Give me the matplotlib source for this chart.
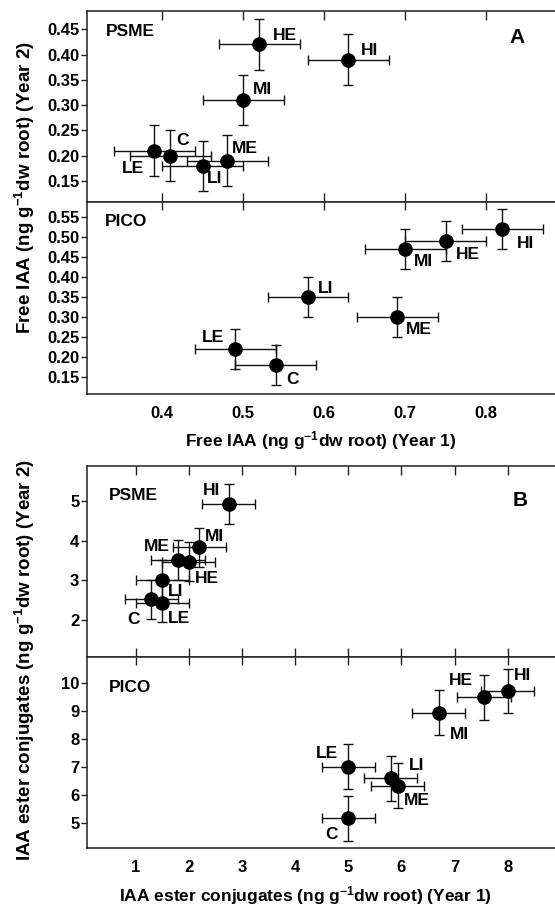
import matplotlib
matplotlib.use("Agg")
import matplotlib.pyplot as plt
import numpy as np

plt.rcParams['font.family'] = ['Liberation Sans', 'DejaVu Sans']
plt.rcParams['font.weight'] = 'bold'
plt.rcParams['mathtext.fontset'] = 'custom'
plt.rcParams['mathtext.rm'] = 'Liberation Sans:bold'
plt.rcParams['mathtext.it'] = 'Liberation Sans:bold'
plt.rcParams['mathtext.bf'] = 'Liberation Sans:bold'
plt.rcParams['mathtext.default'] = 'rm'

# ---------------- data ----------------
treatments = ['C', 'LE', 'LI', 'ME', 'MI', 'HE', 'HI']

# Panel A: Free IAA
a_psme_x = [0.41, 0.39, 0.45, 0.48, 0.50, 0.52, 0.63]
a_psme_y = [0.20, 0.21, 0.18, 0.19, 0.31, 0.42, 0.39]
a_psme_xerr = [0.05, 0.05, 0.05, 0.05, 0.05, 0.05, 0.05]
a_psme_yerr = [0.05, 0.05, 0.05, 0.05, 0.05, 0.05, 0.05]

a_pico_x = [0.54, 0.49, 0.58, 0.69, 0.70, 0.75, 0.82]
a_pico_y = [0.18, 0.22, 0.35, 0.30, 0.47, 0.49, 0.52]
a_pico_xerr = [0.05, 0.05, 0.05, 0.05, 0.05, 0.05, 0.05]
a_pico_yerr = [0.05, 0.05, 0.05, 0.05, 0.05, 0.05, 0.05]

# Panel B: IAA ester conjugates
b_psme_x = [1.3, 1.5, 1.5, 1.8, 2.2, 2.0, 2.75]
b_psme_y = [2.52, 2.44, 3.01, 3.51, 3.83, 3.47, 4.92]
b_psme_xerr = [0.5, 0.5, 0.5, 0.5, 0.5, 0.5, 0.5]
b_psme_yerr = [0.5, 0.5, 0.5, 0.5, 0.5, 0.5, 0.5]

b_pico_x = [5.0, 5.0, 5.8, 5.93, 6.7, 7.55, 8.0]
b_pico_y = [5.18, 7.02, 6.61, 6.34, 8.95, 9.5, 9.73]
b_pico_xerr = [0.5, 0.5, 0.5, 0.5, 0.5, 0.5, 0.5]
b_pico_yerr = [0.8, 0.8, 0.8, 0.8, 0.8, 0.8, 0.8]

a_xticks = [0.4, 0.5, 0.6, 0.7, 0.8]
a_psme_yticks = [0.15, 0.20, 0.25, 0.30, 0.35, 0.40, 0.45]
a_pico_yticks = [0.15, 0.20, 0.25, 0.30, 0.35, 0.40, 0.45, 0.50, 0.55]
b_xticks = [1, 2, 3, 4, 5, 6, 7, 8]
b_psme_yticks = [2, 3, 4, 5]
b_pico_yticks = [5, 6, 7, 8, 9, 10]

# label offsets (pixels): (dx, dy, ha)
a_psme_off = {'C': (6, 15, 'left'), 'LE': (-10, -18, 'right'), 'LI': (4, -13, 'left'),
              'ME': (5, 12, 'left'), 'MI': (10, 11, 'left'), 'HE': (13, 9, 'left'),
              'HI': (12, 9, 'left')}
a_pico_off = {'C': (11, -14, 'left'), 'LE': (-11, 12, 'right'), 'LI': (10, 9, 'left'),
              'ME': (9, -12, 'left'), 'MI': (9, -12, 'left'), 'HE': (10, -13, 'left'),
              'HI': (15, -14, 'left')}
b_psme_off = {'C': (-12, -20, 'right'), 'LE': (6, -16, 'left'), 'LI': (6, -12, 'left'),
              'ME': (-8, 14, 'right'), 'MI': (6, 11, 'left'), 'HE': (6, -17, 'left'),
              'HI': (-8, 14, 'right')}
b_pico_off = {'C': (-11, -16, 'right'), 'LE': (-10, 13, 'right'), 'LI': (18, 13, 'left'),
              'ME': (6, -15, 'left'), 'MI': (11, -22, 'left'), 'HE': (-11, 17, 'right'),
              'HI': (6, 15, 'left')}

W, H = 555, 907
fig = plt.figure(figsize=(W / 100, H / 100), dpi=100)

def pax(top, bottom):
    left = 87 / W
    return fig.add_axes([left, 1 - bottom / H, 1 - left + 0.01, (bottom - top) / H])

PX = 72 / 100.0  # pixels -> points

def draw(ax, xs, ys, xe, ye, offs, xlim, ylim, yticks, xticks, yfmt, upper):
    ax.errorbar(xs, ys, xerr=xe, yerr=ye, fmt='o', color='black', ms=9.5,
                ecolor='#111111', elinewidth=1.0, capsize=3.3, capthick=1.0, zorder=3)
    for t, x, y in zip(treatments, xs, ys):
        dx, dy, ha = offs[t]
        ax.annotate(t, (x, y), xytext=(dx * PX, dy * PX), textcoords='offset points',
                    ha=ha, va='center', fontsize=12.5, fontweight='bold')
    ax.set_xlim(*xlim)
    ax.set_ylim(*ylim)
    ax.set_yticks(yticks)
    ax.set_yticklabels([yfmt % v for v in yticks])
    ax.set_xticks(xticks)
    ax.spines['right'].set_visible(False)
    for s in ['left', 'top', 'bottom']:
        ax.spines[s].set_linewidth(1.1)
        ax.spines[s].set_color('#222222')
    ax.tick_params(axis='y', direction='out', length=4.5, width=1.0, pad=1,
                   labelsize=12, colors='#222222', labelcolor='black')
    if upper:
        ax.tick_params(axis='x', top=True, bottom=True, direction='in', length=6.5,
                       width=1.0, labelbottom=False, colors='#222222')
    else:
        ax.tick_params(axis='x', top=True, bottom=False, direction='in', length=5.5,
                       width=1.0, labelbottom=True, pad=9, labelsize=12,
                       colors='#222222', labelcolor='black')
    for lab in ax.get_xticklabels() + ax.get_yticklabels():
        lab.set_fontweight('bold')

# Panel A
ax1 = pax(10.5, 201.5)
draw(ax1, a_psme_x, a_psme_y, a_psme_xerr, a_psme_yerr, a_psme_off,
     (0.307, 0.892), (0.1095, 0.487), a_psme_yticks, a_xticks, '%.2f', True)
ax2 = pax(201.5, 393.5)
draw(ax2, a_pico_x, a_pico_y, a_pico_xerr, a_pico_yerr, a_pico_off,
     (0.307, 0.892), (0.1095, 0.5895), a_pico_yticks, a_xticks, '%.2f', False)
ax2.set_xticklabels(['%.1f' % v for v in a_xticks])

# Panel B
ax3 = pax(466, 656.5)
draw(ax3, b_psme_x, b_psme_y, b_psme_xerr, b_psme_yerr, b_psme_off,
     (0.088, 8.99), (1.08, 5.88), b_psme_yticks, b_xticks, '%d', True)
ax4 = pax(656.5, 848)
draw(ax4, b_pico_x, b_pico_y, b_pico_xerr, b_pico_yerr, b_pico_off,
     (0.088, 8.99), (4.12, 10.96), b_pico_yticks, b_xticks, '%d', False)
ax4.set_xticklabels(['%d' % v for v in b_xticks])

def ftext(x, y, s, **kw):
    fig.text(x / W, 1 - y / H, s, fontweight='bold', **kw)

ftext(106, 32, 'PSME', fontsize=12.5, va='center', ha='left')
ftext(105, 221, 'PICO', fontsize=12.5, va='center', ha='left')
ftext(109, 496, 'PSME', fontsize=12.5, va='center', ha='left')
ftext(109, 688, 'PICO', fontsize=12.5, va='center', ha='left')
ftext(517, 37.5, 'A', fontsize=15, va='center', ha='center')
ftext(520, 500, 'B', fontsize=15, va='center', ha='center')

ftext(321, 446, r'Free IAA (ng g$^{-1}$dw root) (Year 1)', fontsize=12.5,
      va='baseline', ha='center')
ftext(305, 901, r'IAA ester conjugates (ng g$^{-1}$dw root) (Year 1)', fontsize=12.5,
      va='baseline', ha='center')
ftext(25, 188, r'Free IAA (ng g$^{-1}$dw root) (Year 2)', fontsize=13.5,
      va='center', ha='center', rotation=90)
ftext(25, 660, r'IAA ester conjugates (ng g$^{-1}$dw root) (Year 2)', fontsize=13.5,
      va='center', ha='center', rotation=90)

fig.savefig('out.png', dpi=100)
